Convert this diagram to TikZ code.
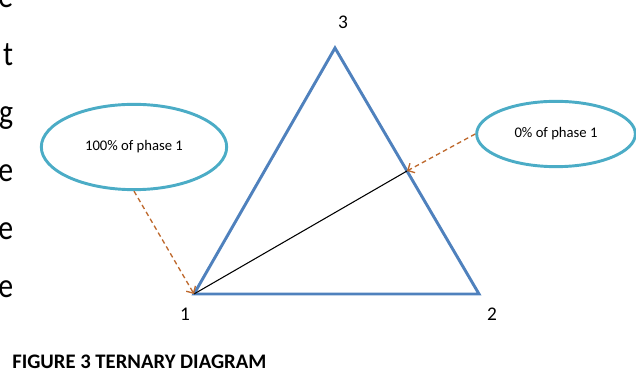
\documentclass[tikz,border=0pt]{standalone}
\usepackage{fontspec}
\setmainfont{Carlito}
\usetikzlibrary{shapes.geometric, arrows.meta, positioning, calc}
\definecolor{cBlue}{RGB}{79,129,189}
\definecolor{cAqua}{RGB}{75,172,198}
\definecolor{cBrown}{RGB}{190,105,45}
\tikzset{
	side/.style     ={cBlue, line width=2.2pt, line join=miter},
	bubble/.style   ={ellipse, draw=cAqua, line width=2.2pt, align=center, inner sep=0pt, font=\fontsize{11}{13}\selectfont},
	pointer/.style  ={-{Straight Barb[length=4pt, width=8pt]}, cBrown, line width=1pt, dash pattern=on 3.5pt off 2.5pt},
	corner/.style   ={font=\fontsize{14.5}{16}\selectfont, inner sep=0pt},
	edgetext/.style ={anchor=base east, inner sep=0pt, font=\fontsize{26}{30}\selectfont},
}
\begin{document}
\begin{tikzpicture}[x=0.75pt, y=-0.75pt]
	\useasboundingbox (0,0) rectangle (636,373);
	% cut-off paragraph text at the left edge
	\foreach \ch [count=\i] in {e,t,g,e,e,e}
		\node[edgetext] (txt\i) at (13.5, {8+(\i-1)*58}) {\scalebox{0.86}[1]{\ch}};
	% triangle
	\coordinate (v1) at (194,294);
	\coordinate (v2) at (479,294);
	\coordinate (v3) at (335,48);
	\coordinate (mid) at ($(v2)!0.5!(v3)$);
	\draw[side] (v1) -- (v2) -- (v3) -- cycle;
	\draw[black, line width=0.8pt] (v1) -- (mid);
	\node[corner] (c1) at (185,314) {1};
	\node[corner] (c2) at (492,314) {2};
	\node[corner] (c3) at (343,22) {3};
	% callouts
	\node[bubble, minimum width=139pt, minimum height=64pt] (full) at (134,147) {100\% of phase 1};
	\node[bubble, minimum width=119pt, minimum height=49pt] (none) at (556,134) {0\% of phase 1};
	\draw[pointer] (full.south) -- (v1);
	\draw[pointer] (none.west) -- (mid);
	\node[anchor=west, inner sep=0pt, font=\bfseries\fontsize{15.5}{18}\selectfont] (cap) at (12,362) {FIGURE 3 TERNARY DIAGRAM};
\end{tikzpicture}
\end{document}
